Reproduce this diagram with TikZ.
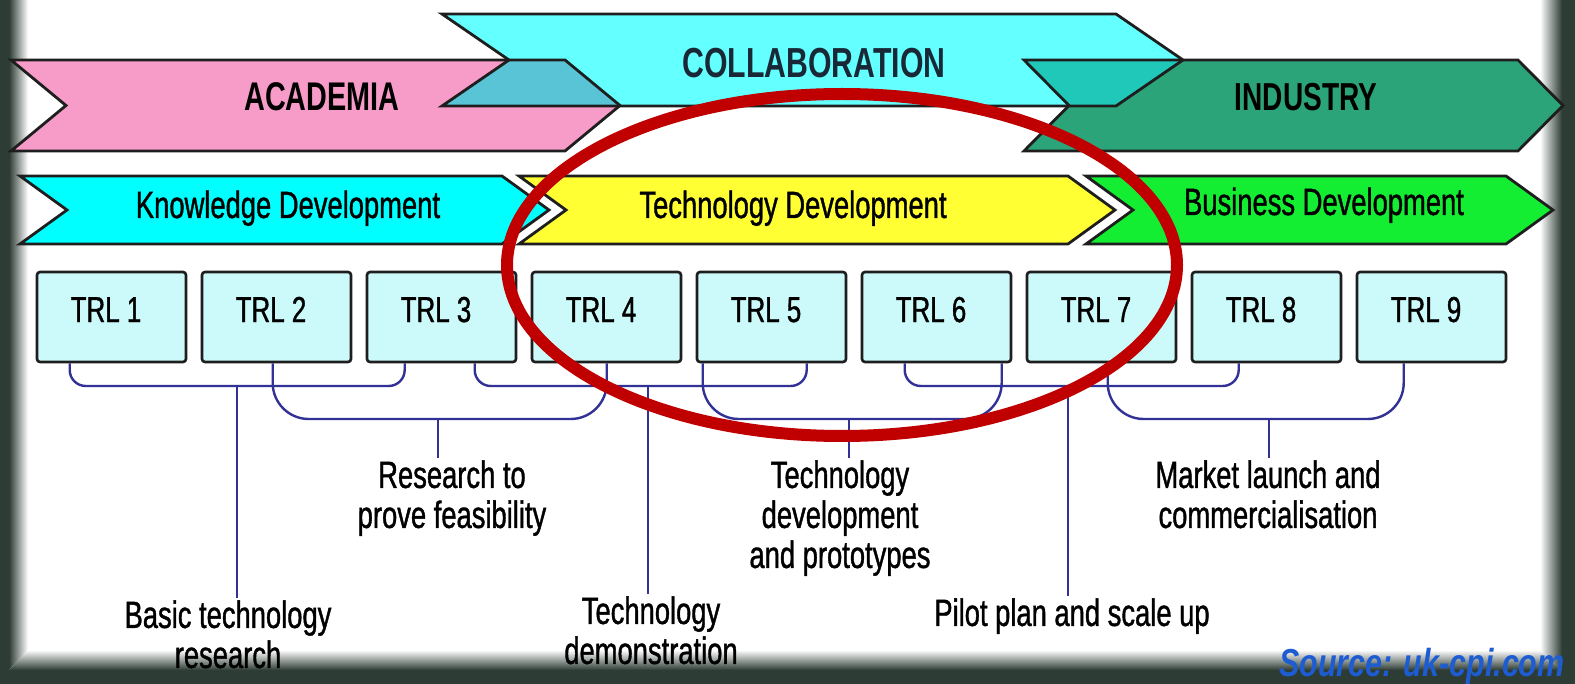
\documentclass[tikz,border=0pt]{standalone}
\usepackage{fontspec}
\setmainfont{Liberation Sans}
\newfontfamily\cond[FakeStretch=0.72, UprightFeatures={FakeBold=1.0}]{Liberation Sans}
\newfontfamily\condb[FakeStretch=0.72]{Liberation Sans}
\newfontfamily\srcf[FakeStretch=0.78]{Liberation Sans}
\usetikzlibrary{calc}
\definecolor{pinkA}{RGB}{247,155,200}
\definecolor{collabC}{RGB}{100,255,255}
\definecolor{ovA}{RGB}{88,196,214}
\definecolor{indG}{RGB}{44,164,122}
\definecolor{ovB}{RGB}{32,200,186}
\definecolor{knowC}{RGB}{0,255,255}
\definecolor{techY}{RGB}{255,255,51}
\definecolor{busG}{RGB}{20,238,50}
\definecolor{boxC}{RGB}{204,250,250}
\definecolor{brkc}{RGB}{50,50,150}
\definecolor{ellred}{RGB}{192,0,0}
\definecolor{framedk}{RGB}{45,60,52}
\definecolor{srcblue}{RGB}{30,92,210}
\definecolor{outl}{RGB}{30,30,30}
\definecolor{coltext}{RGB}{25,40,55}
% #1 style, #2 x1, #3 x2, #4 ytop, #5 ybot, #6 depth
\newcommand\mychev[6]{%
  \path[#1] (#2,#4) -- (#3,#4) -- ({#3+#6},{(#4+#5)/2}) -- (#3,#5) -- (#2,#5) -- ({#2+#6},{(#4+#5)/2}) -- cycle;}
\begin{document}
\begin{tikzpicture}[x=0.5pt,y=-0.5pt,
  lbl/.style={font=\cond\fontsize{19}{20}\selectfont, align=center, inner sep=1pt, anchor=north},
  trlbox/.style={draw=outl, line width=1.3pt, fill=boxC, rounded corners=1.5pt, minimum width=74.5pt, minimum height=45pt, inner sep=0pt},
  trltxt/.style={font=\cond\fontsize{18}{20}\selectfont, inner sep=0pt, anchor=base},
  brk/.style={draw=brkc, line width=1.2pt},
  outline/.style={draw=outl, line width=1.4pt, line join=miter},
  bigtxt/.style={font=\condb\bfseries\fontsize{20}{20}\selectfont, inner sep=0pt, anchor=base},
  midtxt/.style={font=\cond\fontsize{19}{20}\selectfont, inner sep=0pt, anchor=base},
]
\useasboundingbox (0,0) rectangle (1575,684);
\fill[white] (0,0) rectangle (1575,684);
% frame
\fill[framedk] (0,0) rectangle (9,684);
\fill[framedk] (1562,0) rectangle (1575,684);
\fill[framedk] (0,670) rectangle (1575,684);
\shade[left color=framedk, right color=white] (9,0) -- (28,0) -- (28,650) -- (9,670) -- cycle;
\shade[left color=white, right color=framedk] (1540,0) -- (1562,0) -- (1562,670) -- (1540,650) -- cycle;
\shade[top color=white, bottom color=framedk] (28,650) -- (1540,650) -- (1562,670) -- (9,670) -- cycle;

% top row arrows: fills
\mychev{fill=pinkA}{11}{565}{60}{151}{55}
\mychev{fill=collabC}{442}{1116}{14}{106}{67}
\mychev{fill=indG}{1024}{1518}{60}{151}{45}
\fill[ovA] (509,60) -- (565,60) -- (620,106) -- (442,106) -- cycle;
\fill[ovB] (1024,60) -- (1183,60) -- (1116,106) -- (1069,106) -- cycle;
% outlines
\mychev{outline}{11}{565}{60}{151}{55}
\mychev{outline}{442}{1116}{14}{106}{67}
\mychev{outline}{1024}{1518}{60}{151}{45}
\node[bigtxt] (academia) at (322,110.5) {ACADEMIA};
\node[bigtxt, font=\condb\bfseries\fontsize{21}{21}\selectfont, text=coltext] (collab) at (814,78) {COLLABORATION};
\node[bigtxt, font=\condb\bfseries\fontsize{19.5}{20}\selectfont] (industry) at (1306,110.5) {INDUSTRY};

% second row
\mychev{fill=knowC, outline}{20}{502}{176}{244}{47}
\mychev{fill=techY, outline}{519}{1068}{176}{244}{47}
\mychev{fill=busG, outline}{1086}{1506}{176}{244}{47}
\node[midtxt] (know) at (288,218) {Knowledge Development};
\node[midtxt] (tech) at (793,218) {Technology Development};
\node[midtxt] (bus) at (1324,215) {Business Development};

% TRL boxes
\foreach \i in {1,...,9} {
  \node[trlbox] (t\i) at ({111.5+165*(\i-1)},317) {};
  \node[trltxt] (tl\i) at ({106+165*(\i-1)},322) {TRL \i};
}

% labels
\node[lbl] (l1) at (228,598) {Basic technology\\research};
\node[lbl] (l2) at (452,458) {Research to\\prove feasibility};
\node[lbl] (l3) at (651,594) {Technology\\demonstration};
\node[lbl] (l4) at (840,458) {Technology\\development\\and prototypes};
\node[lbl] (l5) at (1072,596) {Pilot plan and scale up};
\node[lbl] (l6) at (1268,458) {Market launch and\\commercialisation};

% brackets
\coordinate (s1) at (237,386);
\coordinate (s3) at (648,386);
\coordinate (s5) at (1068,386);
\coordinate (s2) at (438,419);
\coordinate (s4) at (849,419);
\coordinate (s6) at (1269,419);
\draw[brk, rounded corners=8pt] ($(t1.south west)+(34,0)$) |- (s1) -| ($(t3.south west)+(39,0)$);
\draw[brk, rounded corners=8pt] ($(t3.south west)+(109,0)$) |- (s3) -| ($(t5.south west)+(111,0)$);
\draw[brk, rounded corners=8pt] ($(t6.south west)+(44,0)$) |- (s5) -| ($(t8.south west)+(48,0)$);
\draw[brk, rounded corners=18pt] ($(t2.south west)+(72,0)$) |- (s2) -| ($(t4.south west)+(76,0)$);
\draw[brk, rounded corners=18pt] ($(t5.south west)+(7,0)$) |- (s4) -| ($(t6.south west)+(141,0)$);
\draw[brk, rounded corners=18pt] ($(t7.south west)+(82,0)$) |- (s6) -| ($(t9.south west)+(48,0)$);
\draw[brk] (s1) -- (s1 |- l1.north);
\draw[brk] (s2) -- (s2 |- l2.north);
\draw[brk] (s3) -- (s3 |- l3.north);
\draw[brk] (s4) -- (s4 |- l4.north);
\draw[brk] (s5) -- (s5 |- l5.north);
\draw[brk] (s6) -- (s6 |- l6.north);

% red ellipse
\draw[ellred, line width=6pt] (842,265) ellipse [x radius=167.5pt, y radius=85.5pt];

% source
\node[font=\srcf\bfseries\itshape\fontsize{19.5}{20}\selectfont, text=srcblue, inner sep=0pt, anchor=base] (src) at (1422,676) {Source: uk-cpi.com};
\end{tikzpicture}
\end{document}
